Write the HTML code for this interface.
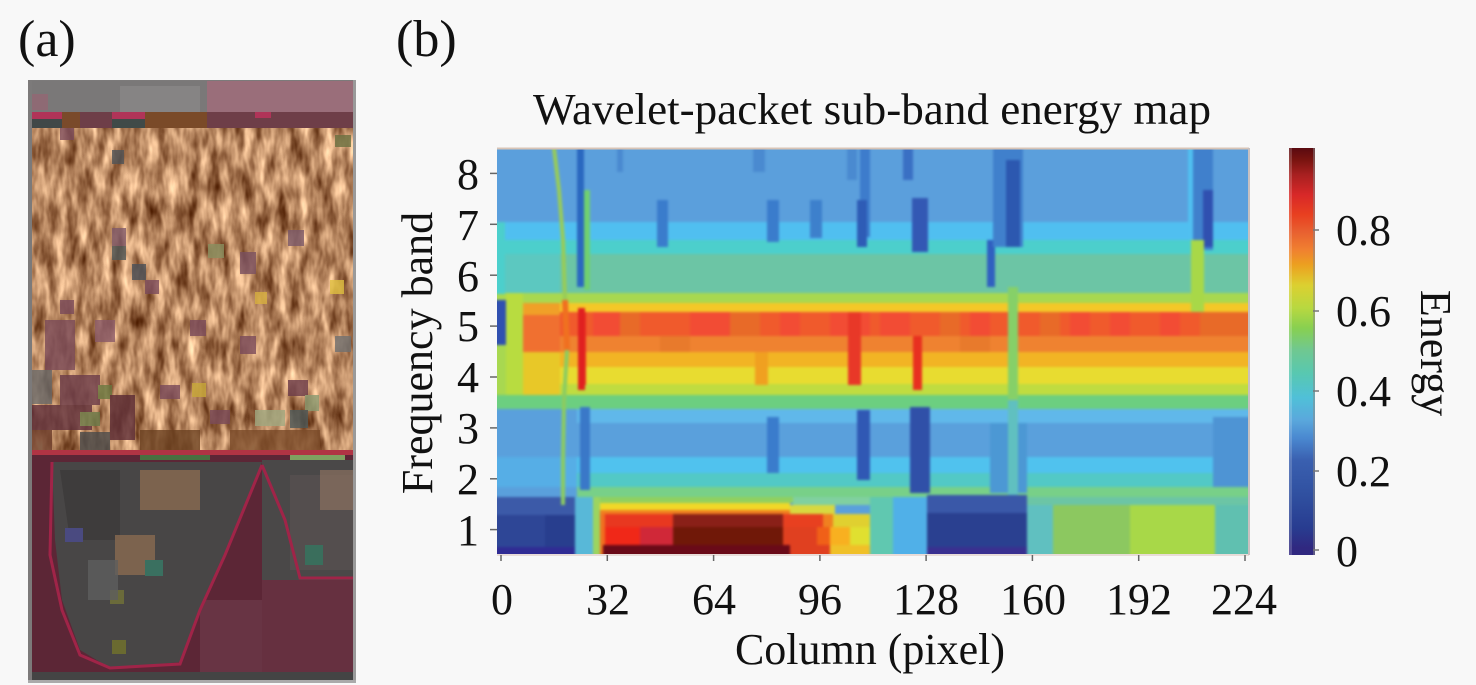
<!DOCTYPE html>
<html>
<head>
<meta charset="utf-8">
<style>
  html,body{margin:0;padding:0;background:#f8f8f8;}
  body{width:1476px;height:685px;overflow:hidden;}
  svg{display:block;}
  text{font-family:"Liberation Serif","Times New Roman",serif;fill:#111;}
</style>
</head>
<body>
<svg width="1476" height="685" viewBox="0 0 1476 685" xmlns="http://www.w3.org/2000/svg" font-family="Liberation Serif, Times New Roman, serif">
  <defs>
    <filter id="tex" x="0" y="0" width="100%" height="100%" filterUnits="objectBoundingBox" color-interpolation-filters="sRGB">
      <feTurbulence type="fractalNoise" baseFrequency="0.09 0.03" numOctaves="3" seed="7" result="n"/>
      <feColorMatrix in="n" type="matrix" values="1.05 0 0 0 0.19  1.05 0 0 0 0.0  0.95 0 0 0 -0.1  0 0 0 0 1"/>
    </filter>
    <filter id="blur" x="-2%" y="-2%" width="104%" height="104%" color-interpolation-filters="sRGB">
      <feGaussianBlur stdDeviation="1.3"/>
    </filter>
    <clipPath id="plotclip"><rect x="497" y="148" width="752" height="407"/></clipPath>
    <linearGradient id="cb" x1="0" y1="0" x2="0" y2="1">
      <stop offset="0" stop-color="#5a0a10"/>
      <stop offset="0.03" stop-color="#7a1410"/>
      <stop offset="0.066" stop-color="#a82020"/>
      <stop offset="0.115" stop-color="#d82828"/>
      <stop offset="0.164" stop-color="#e84020"/>
      <stop offset="0.206" stop-color="#e86030"/>
      <stop offset="0.25" stop-color="#f08030"/>
      <stop offset="0.287" stop-color="#eca020"/>
      <stop offset="0.337" stop-color="#dcd030"/>
      <stop offset="0.393" stop-color="#b8d840"/>
      <stop offset="0.442" stop-color="#88d050"/>
      <stop offset="0.496" stop-color="#70c890"/>
      <stop offset="0.553" stop-color="#58c8b0"/>
      <stop offset="0.614" stop-color="#50c0d8"/>
      <stop offset="0.668" stop-color="#5aa8dc"/>
      <stop offset="0.713" stop-color="#4a88d0"/>
      <stop offset="0.767" stop-color="#3a60b0"/>
      <stop offset="0.853" stop-color="#3050a0"/>
      <stop offset="0.934" stop-color="#283c90"/>
      <stop offset="0.983" stop-color="#302880"/>
      <stop offset="1" stop-color="#302880"/>
    </linearGradient>
  </defs>

  <!-- ============ Panel (a) ============ -->
  <text x="18" y="56" font-size="52">(a)</text>
  <rect x="28" y="80" width="328" height="603" fill="#7c7a7a"/>
  <rect x="32" y="81" width="175" height="31" fill="#7a7878"/>
  <rect x="120" y="86" width="80" height="26" fill="#868484"/>
  <rect x="207" y="81" width="146" height="31" fill="#9a6e7a"/>
  <rect x="32" y="94" width="16" height="16" fill="#8e6a74"/>
  <rect x="32" y="112" width="321" height="16" fill="#6e3e48"/>
  <rect x="32" y="112" width="30" height="7" fill="#b03458"/>
  <rect x="62" y="112" width="18" height="16" fill="#7a4a2a"/>
  <rect x="112" y="112" width="33" height="7" fill="#b03458"/>
  <rect x="145" y="112" width="62" height="16" fill="#7a4a28"/>
  <rect x="255" y="112" width="16" height="6" fill="#b03458"/>
  <rect x="32" y="119" width="30" height="9" fill="#404848"/>
  <rect x="112" y="119" width="33" height="9" fill="#404a48"/>
  <rect x="32" y="128" width="321" height="322" filter="url(#tex)"/>
  <g opacity="0.8">
    <rect x="60" y="128" width="14" height="12" fill="#7a4a5a"/>
    <rect x="112" y="150" width="12" height="14" fill="#505458"/>
    <rect x="335" y="135" width="16" height="12" fill="#6a7040"/>
    <rect x="112" y="228" width="14" height="18" fill="#805a6a"/>
    <rect x="112" y="246" width="14" height="14" fill="#505858"/>
    <rect x="132" y="264" width="14" height="16" fill="#4a5058"/>
    <rect x="208" y="244" width="16" height="14" fill="#8a9060"/>
    <rect x="240" y="252" width="16" height="22" fill="#7a5060"/>
    <rect x="288" y="230" width="16" height="16" fill="#7a5868"/>
    <rect x="330" y="280" width="14" height="14" fill="#e0c040"/>
    <rect x="255" y="292" width="12" height="12" fill="#d8b040"/>
    <rect x="145" y="280" width="14" height="14" fill="#7a4a5a"/>
    <rect x="60" y="300" width="14" height="14" fill="#7a4a5a"/>
    <rect x="45" y="320" width="30" height="50" fill="#7a4a58"/>
    <rect x="95" y="320" width="20" height="22" fill="#8a5a68"/>
    <rect x="190" y="320" width="16" height="16" fill="#7a4a5a"/>
    <rect x="240" y="336" width="16" height="18" fill="#7a4a5a"/>
    <rect x="335" y="336" width="16" height="16" fill="#707070"/>
    <rect x="32" y="370" width="20" height="34" fill="#6a6a6a"/>
    <rect x="60" y="375" width="40" height="30" fill="#6a3a48"/>
    <rect x="98" y="385" width="14" height="14" fill="#6a7840"/>
    <rect x="160" y="385" width="20" height="14" fill="#7a4a5a"/>
    <rect x="192" y="383" width="14" height="14" fill="#c8a838"/>
    <rect x="288" y="380" width="20" height="16" fill="#6a3a48"/>
    <rect x="305" y="395" width="14" height="16" fill="#8a9a70"/>
    <rect x="32" y="405" width="60" height="25" fill="#5e2e3a"/>
    <rect x="80" y="412" width="20" height="14" fill="#6a7a48"/>
    <rect x="110" y="395" width="25" height="45" fill="#5a2a34"/>
    <rect x="255" y="410" width="30" height="16" fill="#a0a880"/>
    <rect x="290" y="410" width="18" height="18" fill="#4e5a5a"/>
    <rect x="210" y="410" width="20" height="14" fill="#7a4a58"/>
    <rect x="80" y="432" width="30" height="18" fill="#4a4a4a"/>
    <rect x="32" y="430" width="20" height="20" fill="#6a3a28"/>
    <rect x="140" y="430" width="60" height="20" fill="#6a4020"/>
    <rect x="230" y="430" width="90" height="20" fill="#7a4a28"/>
  </g>
  <rect x="32" y="450" width="321" height="230" fill="#5c2636"/>
  <rect x="32" y="450" width="321" height="5" fill="#b03444"/>
  <rect x="140" y="455" width="70" height="5" fill="#4a7040"/>
  <rect x="290" y="455" width="55" height="5" fill="#80a060"/>
  <rect x="262" y="460" width="91" height="120" fill="#4a4848"/>
  <rect x="290" y="475" width="63" height="95" fill="#565050" opacity="0.8"/>
  <rect x="320" y="470" width="33" height="40" fill="#8a7060" opacity="0.7"/>
  <rect x="305" y="545" width="18" height="20" fill="#3a6e5c"/>
  <rect x="200" y="600" width="153" height="80" fill="#683444"/>
  <rect x="262" y="580" width="91" height="100" fill="#663040"/>
  <polygon points="52,462 262,462 250,495 225,555 200,610 182,662 110,668 80,650 62,600 55,540" fill="#484646"/>
  <polygon points="60,470 120,470 120,540 70,540" fill="#3e3c3c"/>
  <rect x="140" y="470" width="60" height="40" fill="#8a6a50" opacity="0.8"/>
  <rect x="115" y="535" width="40" height="40" fill="#8a6a50" opacity="0.8"/>
  <rect x="65" y="528" width="18" height="14" fill="#4a4a80"/>
  <rect x="145" y="560" width="18" height="16" fill="#3a7060"/>
  <rect x="110" y="590" width="14" height="14" fill="#6a6a3a"/>
  <rect x="112" y="640" width="14" height="14" fill="#6a6a30"/>
  <rect x="88" y="560" width="30" height="40" fill="#5e5e5e" opacity="0.8"/>
  <polyline points="52,462 50,555 62,610 80,655 110,668 180,664 200,610 225,555 262,465" fill="none" stroke="#a02448" stroke-width="3"/>
  <polyline points="262,465 285,520 300,578 353,578" fill="none" stroke="#a02448" stroke-width="3"/>
  <rect x="32" y="672" width="321" height="8" fill="#444444"/>
  <rect x="353" y="80" width="3" height="603" fill="#9a9a9a"/>
  <rect x="28" y="680" width="328" height="3" fill="#aaaaaa"/>

  <!-- ============ Panel (b) ============ -->
  <text x="396" y="56" font-size="52">(b)</text>
  <text x="872" y="124" font-size="44" text-anchor="middle" textLength="678" lengthAdjust="spacingAndGlyphs">Wavelet-packet sub-band energy map</text>

  <g clip-path="url(#plotclip)">
  <g filter="url(#blur)">
    <rect x="490" y="140" width="766" height="82" fill="#5b9fdc"/>
    <rect x="490" y="222" width="766" height="18" fill="#50bff0"/>
    <rect x="490" y="240" width="766" height="14" fill="#4ccfcc"/>
    <rect x="490" y="254" width="766" height="39" fill="#6cc5a5"/>
    <rect x="490" y="293" width="766" height="10" fill="#a8d850"/>
    <rect x="490" y="303" width="766" height="9" fill="#f4c828"/>
    <rect x="490" y="312" width="766" height="24" fill="#f05a2c"/>
    <rect x="490" y="336" width="766" height="16" fill="#ef8230"/>
    <rect x="490" y="352" width="766" height="15" fill="#f2b424"/>
    <rect x="490" y="367" width="766" height="17" fill="#e8dc30"/>
    <rect x="490" y="384" width="766" height="11" fill="#c0dc40"/>
    <rect x="490" y="395" width="766" height="14" fill="#6ccf80"/>
    <rect x="490" y="409" width="766" height="14" fill="#60b8ea"/>
    <rect x="490" y="423" width="766" height="34" fill="#5aa0dc"/>
    <rect x="490" y="457" width="766" height="16" fill="#50c2ee"/>
    <rect x="490" y="473" width="766" height="14" fill="#52c9c6"/>
    <rect x="490" y="487" width="766" height="10" fill="#78d088"/>
    <rect x="490" y="497" width="766" height="66" fill="#5aa0dc"/>

    <rect x="593" y="312" width="27" height="24" fill="#f24c34"/>
    <rect x="620" y="312" width="20" height="24" fill="#e86a28"/>
    <rect x="690" y="312" width="40" height="24" fill="#f24c34"/>
    <rect x="730" y="312" width="30" height="24" fill="#e86a28"/>
    <rect x="780" y="312" width="20" height="24" fill="#f24c34"/>
    <rect x="830" y="312" width="40" height="24" fill="#f24c34"/>
    <rect x="880" y="312" width="30" height="24" fill="#f24c34"/>
    <rect x="940" y="312" width="20" height="24" fill="#e86a28"/>
    <rect x="970" y="312" width="20" height="24" fill="#f24c34"/>
    <rect x="1040" y="312" width="20" height="24" fill="#e86a28"/>
    <rect x="1070" y="312" width="20" height="24" fill="#f24c34"/>
    <rect x="1110" y="312" width="20" height="24" fill="#f24c34"/>
    <rect x="1160" y="312" width="20" height="24" fill="#f24c34"/>
    <rect x="1200" y="312" width="56" height="24" fill="#e86a28"/>
    <rect x="660" y="336" width="30" height="16" fill="#e87a2c"/>
    <rect x="960" y="336" width="30" height="16" fill="#e87a2c"/>

    <rect x="490" y="254" width="70" height="39" fill="#5cc8c0"/>
    <rect x="490" y="222" width="15" height="72" fill="#4ccfcc"/>
    <rect x="506" y="293" width="17" height="102" fill="#b8dc40"/>
    <rect x="523" y="303" width="37" height="12" fill="#f0a028"/>
    <rect x="523" y="315" width="37" height="37" fill="#f07030"/>
    <rect x="523" y="352" width="37" height="43" fill="#e8c828"/>
    <rect x="490" y="300" width="16" height="45" fill="#3050b0"/>
    <rect x="490" y="345" width="16" height="50" fill="#a8d850"/>
    <rect x="490" y="409" width="87" height="88" fill="#5aa0dc"/>
    <rect x="490" y="457" width="87" height="30" fill="#56aee6"/>
    <rect x="490" y="497" width="85" height="18" fill="#3c5aa8"/>
    <rect x="490" y="515" width="85" height="32" fill="#2e4696"/>
    <rect x="545" y="515" width="30" height="32" fill="#283e8e"/>
    <rect x="490" y="547" width="85" height="16" fill="#302c94"/>
    <rect x="575" y="497" width="20" height="66" fill="#58b8d8"/>
    <rect x="593" y="497" width="10" height="66" fill="#9cd460"/>

    <rect x="600" y="497" width="193" height="6" fill="#90d060"/>
    <rect x="793" y="497" width="77" height="8" fill="#80d0a0"/>
    <rect x="600" y="503" width="190" height="7" fill="#f0d828"/>
    <rect x="790" y="505" width="45" height="9" fill="#d8d840"/>
    <rect x="600" y="510" width="190" height="4" fill="#f08020"/>
    <rect x="600" y="514" width="73" height="13" fill="#e83820"/>
    <rect x="673" y="514" width="110" height="13" fill="#8a2018"/>
    <rect x="783" y="514" width="40" height="13" fill="#e84020"/>
    <rect x="823" y="514" width="10" height="13" fill="#f08020"/>
    <rect x="833" y="514" width="37" height="13" fill="#e0d030"/>
    <rect x="603" y="527" width="37" height="18" fill="#f02818"/>
    <rect x="640" y="527" width="33" height="18" fill="#d02838"/>
    <rect x="673" y="527" width="110" height="18" fill="#701808"/>
    <rect x="783" y="527" width="34" height="18" fill="#e04020"/>
    <rect x="817" y="527" width="13" height="18" fill="#f06018"/>
    <rect x="830" y="527" width="20" height="18" fill="#f8b020"/>
    <rect x="850" y="527" width="20" height="18" fill="#e0e030"/>
    <rect x="600" y="514" width="5" height="49" fill="#f07020"/>
    <rect x="603" y="545" width="187" height="18" fill="#6a0a18"/>
    <rect x="790" y="545" width="40" height="18" fill="#e04020"/>
    <rect x="830" y="545" width="40" height="18" fill="#f0c028"/>
    <rect x="870" y="497" width="23" height="66" fill="#60c8b0"/>
    <rect x="893" y="497" width="34" height="66" fill="#50b0e8"/>
    <rect x="927" y="495" width="100" height="18" fill="#3a58a8"/>
    <rect x="927" y="513" width="100" height="34" fill="#2a4090"/>
    <rect x="927" y="547" width="100" height="16" fill="#3a3090"/>
    <rect x="1027" y="497" width="229" height="8" fill="#6cc5a5"/>
    <rect x="1027" y="505" width="26" height="58" fill="#60c0c0"/>
    <rect x="1053" y="505" width="77" height="58" fill="#8cc860"/>
    <rect x="1130" y="505" width="85" height="58" fill="#a8d848"/>
    <rect x="1215" y="505" width="41" height="58" fill="#60c0b0"/>

    <rect x="617" y="140" width="6" height="32" fill="#4a8ad0"/>
    <rect x="657" y="200" width="11" height="47" fill="#3a7ccc"/>
    <rect x="753" y="140" width="12" height="32" fill="#4a8ad0"/>
    <rect x="767" y="200" width="12" height="42" fill="#3a7ccc"/>
    <rect x="810" y="200" width="12" height="38" fill="#3d80cc"/>
    <rect x="847" y="140" width="10" height="40" fill="#4a8ad0"/>
    <rect x="860" y="140" width="10" height="97" fill="#3d7ccc"/>
    <rect x="857" y="200" width="10" height="47" fill="#2e5cb6"/>
    <rect x="903" y="140" width="10" height="40" fill="#3a70c4"/>
    <rect x="912" y="198" width="16" height="54" fill="#3358b4"/>
    <rect x="987" y="240" width="8" height="47" fill="#3060c0"/>
    <rect x="993" y="140" width="30" height="107" fill="#4080cc"/>
    <rect x="1006" y="160" width="14" height="87" fill="#2c58b0"/>
    <rect x="1188" y="140" width="7" height="100" fill="#50c0f0"/>
    <rect x="1193" y="140" width="20" height="110" fill="#4080cc"/>
    <rect x="1203" y="190" width="10" height="57" fill="#3050b0"/>

    <rect x="580" y="407" width="10" height="83" fill="#3a78c8"/>
    <rect x="767" y="417" width="12" height="56" fill="#3a7ccc"/>
    <rect x="857" y="410" width="13" height="70" fill="#3058b4"/>
    <rect x="910" y="407" width="20" height="86" fill="#3050a8"/>
    <rect x="990" y="423" width="37" height="70" fill="#4c98d4"/>
    <rect x="1213" y="417" width="43" height="70" fill="#4e94d4"/>

    <rect x="848" y="312" width="13" height="73" fill="#e83828"/>
    <rect x="913" y="336" width="9" height="54" fill="#e83020"/>
    <rect x="755" y="352" width="13" height="33" fill="#f0a020"/>
    <rect x="1008" y="287" width="10" height="113" fill="#86d068"/>
    <rect x="1008" y="400" width="10" height="95" fill="#60c0c0"/>
    <rect x="1191" y="240" width="13" height="72" fill="#a8d848"/>
    <rect x="580" y="312" width="6" height="73" fill="#e83020"/>

    <rect x="577" y="140" width="7" height="147" fill="#2a68c0"/>
    <rect x="584" y="190" width="6" height="100" fill="#70d070"/>
    <rect x="578" y="308" width="7" height="82" fill="#e02020"/>
    <polyline points="553,140 559,190 563,240 565,300" fill="none" stroke="#98cc58" stroke-width="4"/>
    <polyline points="565,300 567,350" fill="none" stroke="#f07020" stroke-width="6"/>
    <polyline points="567,350 564,400 563,460 563,505" fill="none" stroke="#8ccc60" stroke-width="4"/>
  </g>
  </g>

  <rect x="497" y="147.5" width="752" height="2" fill="#d8c4b6"/>
  <rect x="497" y="554" width="752" height="2" fill="#e8dcd8"/>
  <rect x="1248" y="148" width="2" height="407" fill="#c8c0c0"/>

  <g stroke="#666" stroke-width="1.5">
    <line x1="490" y1="173.4" x2="497" y2="173.4"/>
    <line x1="490" y1="224.3" x2="497" y2="224.3"/>
    <line x1="490" y1="275.2" x2="497" y2="275.2"/>
    <line x1="490" y1="326.1" x2="497" y2="326.1"/>
    <line x1="490" y1="377" x2="497" y2="377"/>
    <line x1="490" y1="427.9" x2="497" y2="427.9"/>
    <line x1="490" y1="478.8" x2="497" y2="478.8"/>
    <line x1="490" y1="529.6" x2="497" y2="529.6"/>
  </g>
  <g font-size="44" text-anchor="end">
    <text x="479" y="189">8</text>
    <text x="479" y="240">7</text>
    <text x="479" y="291">6</text>
    <text x="479" y="341">5</text>
    <text x="479" y="392">4</text>
    <text x="479" y="443">3</text>
    <text x="479" y="494">2</text>
    <text x="479" y="545">1</text>
  </g>
  <g stroke="#666" stroke-width="1.5">
    <line x1="501" y1="555" x2="501" y2="561"/>
    <line x1="607.3" y1="555" x2="607.3" y2="561"/>
    <line x1="713.6" y1="555" x2="713.6" y2="561"/>
    <line x1="819.9" y1="555" x2="819.9" y2="561"/>
    <line x1="926.1" y1="555" x2="926.1" y2="561"/>
    <line x1="1032.4" y1="555" x2="1032.4" y2="561"/>
    <line x1="1138.7" y1="555" x2="1138.7" y2="561"/>
    <line x1="1245" y1="555" x2="1245" y2="561"/>
  </g>
  <g font-size="44" text-anchor="middle">
    <text x="502" y="614">0</text>
    <text x="608" y="614">32</text>
    <text x="714" y="614">64</text>
    <text x="820" y="614">96</text>
    <text x="926" y="614">128</text>
    <text x="1033" y="614">160</text>
    <text x="1139" y="614">192</text>
    <text x="1244" y="614">224</text>
  </g>
  <text x="870" y="664" font-size="44" text-anchor="middle">Column (pixel)</text>
  <text transform="translate(432,353) rotate(-90)" font-size="44" text-anchor="middle">Frequency band</text>

  <rect x="1289" y="148" width="26" height="407" fill="url(#cb)"/>
  <rect x="1289" y="148" width="3" height="407" fill="#ffffff" opacity="0.18"/>
  <rect x="1313" y="148" width="2" height="407" fill="#888" opacity="0.5"/>
  <g stroke="#777" stroke-width="1.5">
    <line x1="1313" y1="230" x2="1319" y2="230"/>
    <line x1="1313" y1="311" x2="1319" y2="311"/>
    <line x1="1313" y1="391" x2="1319" y2="391"/>
    <line x1="1313" y1="471" x2="1319" y2="471"/>
    <line x1="1313" y1="550" x2="1319" y2="550"/>
  </g>
  <g font-size="44">
    <text x="1336" y="245">0.8</text>
    <text x="1336" y="326">0.6</text>
    <text x="1336" y="406">0.4</text>
    <text x="1336" y="486">0.2</text>
    <text x="1336" y="566">0</text>
  </g>
  <text transform="translate(1421,353) rotate(90)" font-size="44" text-anchor="middle">Energy</text>
</svg>
</body>
</html>
